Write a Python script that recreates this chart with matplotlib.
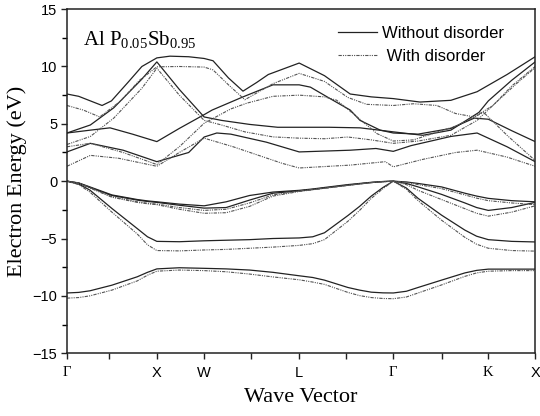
import numpy as np
import matplotlib.pyplot as plt

plt.rcParams['mathtext.fontset'] = 'custom'
plt.rcParams['mathtext.rm'] = 'Liberation Serif'

# high-symmetry points along the k path (plot units)
sym_labels = ['\u0393', 'X', 'W', 'L', '\u0393', 'K', 'X']
sym_pos = [0, 1.92, 2.93, 4.96, 6.97, 9.0, 10]
minor_pos = [0.9, 3.93, 5.96, 8.0]

# valence bands on a shared k grid
k_val = [0, 0.25, 0.49, 0.96, 1.5, 1.72, 1.92, 2.4, 2.93, 3.4, 3.9, 4.4, 4.96, 5.25,
         5.5, 6.0, 6.25, 6.5, 6.75, 6.97, 7.25, 7.5, 8.0, 8.5, 8.75, 9.0, 9.5, 10]

v0_pure = [-9.75, -9.7, -9.56, -9.07, -8.34, -7.95, -7.65, -7.55, -7.6, -7.65, -7.75,
           -7.95, -8.25, -8.4, -8.63, -9.27, -9.5, -9.68, -9.74, -9.75, -9.6, -9.27,
           -8.63, -8.0, -7.78, -7.67, -7.67, -7.67]
v0_dis = [-10.2, -10.15, -10.0, -9.5, -8.7, -8.2, -7.85, -7.75, -7.8, -7.9, -8.1,
          -8.35, -8.6, -8.8, -9.0, -9.7, -9.98, -10.15, -10.23, -10.25, -10.1, -9.75,
          -9.05, -8.3, -8.0, -7.85, -7.8, -7.8]
v1_pure = [0, -0.25, -0.78, -2.38, -4.13, -4.85, -5.25, -5.28, -5.2, -5.15, -5.1,
           -5.0, -4.95, -4.85, -4.5, -3.0, -2.2, -1.3, -0.55, 0, -0.6, -1.5,
           -2.96, -4.27, -4.8, -5.1, -5.25, -5.3]
v1_dis = [0, -0.3, -0.95, -2.7, -4.6, -5.55, -6.05, -6.08, -6.0, -5.95, -5.85,
          -5.75, -5.6, -5.45, -5.1, -3.5, -2.55, -1.5, -0.65, 0, -0.7, -1.7,
          -3.4, -4.9, -5.5, -5.85, -6.05, -6.1]
v2_pure = [0, -0.15, -0.5, -1.2, -1.6, -1.72, -1.8, -2.0, -2.15, -1.8, -1.25,
           -0.95, -0.8, -0.68, -0.55, -0.3, -0.2, -0.1, -0.03, 0, -0.07, -0.2,
           -0.5, -1.05, -1.3, -1.5, -1.7, -1.8]
v2_dis = [0, -0.17, -0.55, -1.35, -1.8, -1.92, -2.0, -2.3, -2.55, -2.45, -1.9,
          -1.2, -0.85, -0.72, -0.6, -0.35, -0.23, -0.12, -0.04, 0, -0.1, -0.3,
          -0.65, -1.2, -1.48, -1.7, -1.9, -2.05]
v3_pure = [0, -0.17, -0.55, -1.25, -1.65, -1.77, -1.85, -2.1, -2.35, -2.3, -1.65,
           -1.05, -0.85, -0.72, -0.6, -0.35, -0.23, -0.12, -0.04, 0, -0.2, -0.5,
           -1.15, -1.9, -2.3, -2.55, -2.3, -1.85]
v3_dis = [0, -0.18, -0.6, -1.4, -1.85, -1.97, -2.05, -2.45, -2.8, -2.75, -2.2,
          -1.3, -0.9, -0.75, -0.62, -0.37, -0.25, -0.13, -0.05, 0, -0.3, -0.8,
          -1.6, -2.4, -2.8, -3.05, -2.7, -2.15]

# conduction bands, each with its own k points
ct_k = [0, 0.25, 0.5, 0.75, 0.95, 1.3, 1.6, 1.92, 2.2, 2.6, 2.93, 3.12, 3.45, 3.76,
        4.05, 4.3, 4.96, 5.5, 6.05, 6.5, 6.97, 7.54, 8.2, 8.76, 9.4, 10]
ct_pure = [7.6, 7.4, 7.0, 6.6, 7.0, 8.6, 10.0, 10.75, 10.9, 10.85, 10.7, 10.5, 9.0, 7.85,
           8.6, 9.3, 10.3, 9.2, 7.6, 7.35, 7.2, 6.9, 7.05, 7.8, 9.3, 10.85]
ct_dis_k = [0, 0.35, 0.7, 1.15, 1.55, 1.92, 2.4, 2.93, 3.12, 3.45, 3.8, 4.4, 4.96,
            5.5, 6.0, 6.4, 6.97, 7.4, 7.9, 8.3, 8.7, 9.1, 9.5, 10]
ct_dis = [6.6, 6.2, 5.6, 7.0, 8.8, 9.97, 10.0, 9.95, 9.7, 8.4, 7.1, 8.5, 9.4,
          8.7, 7.3, 6.7, 6.6, 6.75, 6.6, 5.9, 5.6, 6.6, 8.3, 10.0]

ca_k = [0, 0.5, 1.0, 1.6, 1.92, 2.4, 2.93, 3.3, 3.9, 4.5, 4.96, 5.6, 6.26, 6.97,
        7.6, 8.2, 8.8, 9.0, 9.5, 10]
ca_pure = [4.2, 4.9, 6.4, 8.9, 10.4, 8.0, 5.6, 5.3, 4.95, 4.7, 4.7, 4.7, 4.65, 4.3,
           4.0, 4.45, 6.0, 7.0, 8.8, 10.4]
ca_dis_k = [0, 0.5, 1.0, 1.6, 1.92, 2.4, 2.93, 3.3, 3.8, 4.4, 4.96, 5.5, 6.0, 6.5, 6.97,
            7.5, 8.2, 8.76, 9.2, 9.6, 10]
ca_dis = [3.2, 3.9, 5.5, 8.1, 9.85, 7.5, 5.3, 4.9, 4.3, 3.86, 3.75, 3.7, 3.85, 3.6, 3.3,
          3.5, 4.0, 5.3, 7.0, 8.5, 9.9]

cc_k = [0, 0.5, 0.92, 1.4, 1.92, 2.4, 2.93, 3.1, 3.76, 4.4, 4.96, 5.2, 5.62, 6.05,
        6.26, 6.69, 6.97, 7.5, 8.2, 8.7, 9.0, 9.5, 10]
cc_pure = [4.2, 4.45, 4.65, 4.1, 3.45, 4.6, 5.8, 6.2, 7.35, 8.4, 8.4, 8.2, 7.2, 6.2,
           5.3, 4.45, 4.2, 4.1, 4.6, 5.5, 5.4, 4.4, 3.45]
cc_dis_k = [0, 0.5, 1.2, 1.92, 2.4, 2.93, 3.5, 3.84, 4.4, 4.96, 5.5, 5.76, 6.11, 6.62,
            6.97, 7.4, 8.3, 8.9, 9.4, 10]
cc_dis = [3.0, 3.3, 2.5, 1.45, 3.0, 5.05, 6.3, 6.8, 7.4, 7.5, 7.35, 7.06, 5.9, 4.15,
          3.5, 3.6, 4.8, 6.0, 4.0, 1.8]

cd_k = [0, 0.5, 1.2, 1.92, 2.6, 2.93, 3.2, 3.5, 4.26, 4.96, 6.05, 6.6, 6.97, 7.35,
        8.2, 8.76, 9.4, 10]
cd_pure = [2.55, 3.3, 2.7, 1.7, 2.5, 3.85, 4.2, 4.1, 3.4, 2.55, 2.7, 2.85, 2.6, 3.1,
           3.9, 4.2, 3.0, 1.7]
cd_dis_k = [0, 0.5, 1.1, 1.92, 2.4, 2.93, 3.55, 4.6, 4.96, 6.05, 6.8, 6.97, 7.6, 8.3,
            8.76, 9.4, 10]
cd_dis = [1.3, 2.25, 2.0, 1.3, 2.5, 3.75, 3.0, 1.55, 1.15, 1.4, 1.7, 1.25, 1.9, 2.5,
          2.7, 2.1, 1.3]

pure_bands = [(k_val, v0_pure), (k_val, v1_pure), (k_val, v2_pure), (k_val, v3_pure),
              (ct_k, ct_pure), (ca_k, ca_pure), (cc_k, cc_pure), (cd_k, cd_pure)]
dis_bands = [(k_val, v0_dis), (k_val, v1_dis), (k_val, v2_dis), (k_val, v3_dis),
             (ct_dis_k, ct_dis), (ca_dis_k, ca_dis), (cc_dis_k, cc_dis), (cd_dis_k, cd_dis)]

fig = plt.figure(figsize=(5.4, 4.16), dpi=100)
ax = fig.add_axes([0.124, 0.151, 0.867, 0.827])

dashdot = (0, (3, 1, 1, 1, 1, 1))
for i, (k, e) in enumerate(pure_bands):
    ax.plot(k, e, color='#222222', lw=0.9, label='Without disorder' if i == 0 else None)
for i, (k, e) in enumerate(dis_bands):
    ax.plot(k, e, color='#555555', lw=0.8, ls=dashdot,
            label=' With disorder' if i == 0 else None)

ax.set_xlim(0, 10)
ax.set_ylim(-15, 15)
ax.set_yticks([-15, -10, -5, 0, 5, 10, 15])
ax.set_yticks(np.arange(-12.5, 15, 5), minor=True)
ax.set_xticks(sym_pos + minor_pos)
ax.set_xticklabels(sym_labels + [''] * len(minor_pos))
for lab in ax.get_xticklabels():
    if lab.get_text() in ('\u0393', 'K'):
        lab.set_family('Liberation Serif')
        lab.set_fontsize(11.5)
    else:
        lab.set_family('Liberation Sans')

ax.tick_params(axis='both', which='major', direction='out', length=4, width=1.0,
               labelsize=10.5, color='#222222')
ax.tick_params(axis='y', which='minor', direction='out', length=3.5, width=1.0)
ax.tick_params(axis='x', pad=5)
ax.tick_params(axis='y', pad=3)
for lab in ax.get_yticklabels():
    lab.set_family('Liberation Sans')
for s in ax.spines.values():
    s.set_linewidth(1.1)
    s.set_color('#222222')

ax.set_xlabel('Wave Vector', family='Liberation Serif', fontsize=16, labelpad=6)
ax.set_ylabel('Electron Energy (eV)', family='Liberation Serif', fontsize=16, labelpad=4)

ax.text(0.034, 0.895, r'Al P$_\mathrm{0.05}$Sb$_\mathrm{0.95}$', transform=ax.transAxes,
        family='Liberation Serif', fontsize=15, va='baseline')

leg = ax.legend(loc='upper left', bbox_to_anchor=(0.553, 0.984), frameon=False,
                handlelength=2.35, handletextpad=0.3, labelspacing=0.47, borderpad=0.2,
                prop={'family': 'Liberation Sans', 'size': 12})

fig.savefig('out.png', dpi=100)
